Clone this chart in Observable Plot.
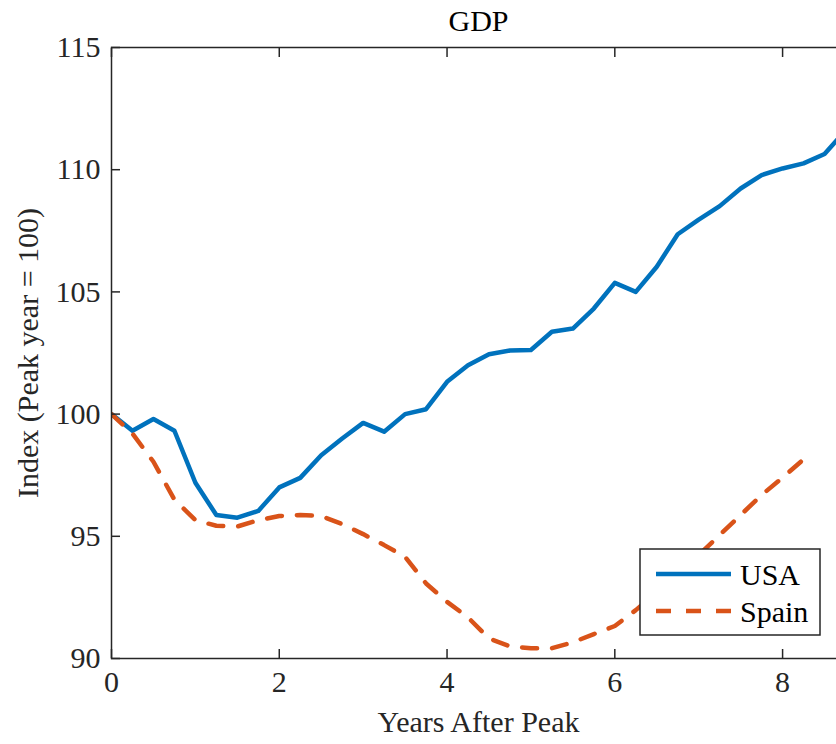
<!DOCTYPE html>
<html>
<head>
<meta charset="utf-8">
<script src="https://cdn.jsdelivr.net/npm/d3@7"></script>
<script src="https://cdn.jsdelivr.net/npm/@observablehq/plot@0.6"></script>
<style>
  html, body { margin: 0; padding: 0; background: #fff; overflow: hidden; }
  #chart { width: 836px; height: 744px; overflow: hidden; }
  #chart svg { max-width: none !important; }
</style>
</head>
<body>
<div id="chart"></div>
<script>
const title = "GDP";
const xLabel = "Years After Peak";
const yLabel = "Index (Peak year = 100)";
const seriesNames = ["USA", "Spain"];
const seriesColors = ["#0072BD", "#D95319"];

const xTicks = [0, 2, 4, 6, 8];
const yTicks = [90, 95, 100, 105, 110, 115];

const usaYears = [0, 0.25, 0.5, 0.75, 1, 1.25, 1.5, 1.75, 2, 2.25, 2.5, 2.75, 3, 3.25, 3.5, 3.75, 4, 4.25, 4.5, 4.75, 5, 5.25, 5.5, 5.75, 6, 6.25, 6.5, 6.75, 7, 7.25, 7.5, 7.75, 8, 8.25, 8.5, 8.75];
const usaValues = [100, 99.32, 99.8, 99.32, 97.19, 95.87, 95.76, 96.04, 97.0, 97.39, 98.32, 99.0, 99.64, 99.28, 100.0, 100.2, 101.32, 102.0, 102.45, 102.6, 102.62, 103.37, 103.5, 104.32, 105.37, 105.0, 106.03, 107.36, 107.96, 108.51, 109.23, 109.78, 110.05, 110.26, 110.64, 111.6];

const spainYears = [0, 0.25, 0.5, 0.75, 1, 1.25, 1.5, 1.75, 2, 2.25, 2.5, 2.75, 3, 3.25, 3.5, 3.75, 4, 4.25, 4.5, 4.75, 5, 5.25, 5.5, 5.75, 6, 6.25, 6.5, 6.75, 7, 7.25, 7.5, 7.75, 8, 8.25];
const spainValues = [100, 99.2, 98.05, 96.5, 95.66, 95.43, 95.4, 95.66, 95.83, 95.87, 95.83, 95.5, 95.09, 94.64, 94.16, 93.07, 92.32, 91.68, 90.82, 90.5, 90.42, 90.42, 90.66, 91.0, 91.33, 91.98, 92.7, 93.5, 94.23, 95.05, 95.87, 96.69, 97.4, 98.15];

const usa = usaYears.map((x, i) => ({x, y: usaValues[i]}));
const spain = spainYears.map((x, i) => ({x, y: spainValues[i]}));

const font = "'Liberation Serif', 'DejaVu Serif', serif";
const ink = "#262626";

const chart = Plot.plot({
  width: 848,
  height: 744,
  marginLeft: 111,
  marginRight: 3,
  marginTop: 47,
  marginBottom: 86,
  style: {fontFamily: font, fontSize: "30px", color: ink, background: "#fff", maxWidth: "none"},
  x: {domain: [0, 8.75]},
  y: {domain: [90, 115]},
  marks: [
    Plot.line(usa, {x: "x", y: "y", stroke: seriesColors[0], strokeWidth: 4.5, clip: true}),
    Plot.line(spain, {x: "x", y: "y", stroke: seriesColors[1], strokeWidth: 4.5, strokeDasharray: "15,15", clip: true}),
    Plot.frame({stroke: ink, strokeWidth: 1.5}),
    Plot.axisX({ticks: xTicks, tickSize: -9, tickPadding: 21, label: null, fontSize: 30, stroke: ink, strokeWidth: 1.5, tickFormat: d => String(d)}),
    Plot.axisX({anchor: "top", ticks: xTicks, tickSize: -9, label: null, stroke: ink, strokeWidth: 1.5, tickFormat: () => ""}),
    Plot.axisY({ticks: yTicks, tickSize: -9, tickPadding: 20, label: null, fontSize: 30, stroke: ink, strokeWidth: 1.5, tickFormat: d => String(d)}),
    Plot.text([title], {frameAnchor: "top", dy: -26, fontSize: 30, fill: "#000", lineAnchor: "middle", textAnchor: "middle"}),
    Plot.text([xLabel], {frameAnchor: "bottom", dy: 64, fontSize: 30, fill: ink, lineAnchor: "middle", textAnchor: "middle"}),
    Plot.text([yLabel], {frameAnchor: "left", dx: -83, rotate: -90, fontSize: 30, fill: ink, lineAnchor: "middle", textAnchor: "middle"})
  ]
});
chart.style.maxWidth = "none";

// Legend (box in pixel space, like MATLAB's legend)
const svg = d3.select(chart);
const lg = svg.append("g").attr("font-family", font).attr("font-size", 30).attr("fill", "#000").attr("text-anchor", "start");
lg.append("rect").attr("x", 640).attr("y", 549).attr("width", 180).attr("height", 86)
  .attr("fill", "#fff").attr("stroke", ink).attr("stroke-width", 1.5);
const rows = [{name: seriesNames[0], color: seriesColors[0], dash: null, y: 574},
              {name: seriesNames[1], color: seriesColors[1], dash: "15,15", y: 611}];
for (const r of rows) {
  lg.append("line").attr("x1", 656).attr("x2", 731).attr("y1", r.y).attr("y2", r.y)
    .attr("stroke", r.color).attr("stroke-width", 4.5).attr("stroke-dasharray", r.dash);
  lg.append("text").attr("x", 740).attr("y", r.y).attr("dy", "0.35em").attr("text-anchor", "start").text(r.name);
}

document.getElementById("chart").appendChild(chart);
</script>
</body>
</html>
